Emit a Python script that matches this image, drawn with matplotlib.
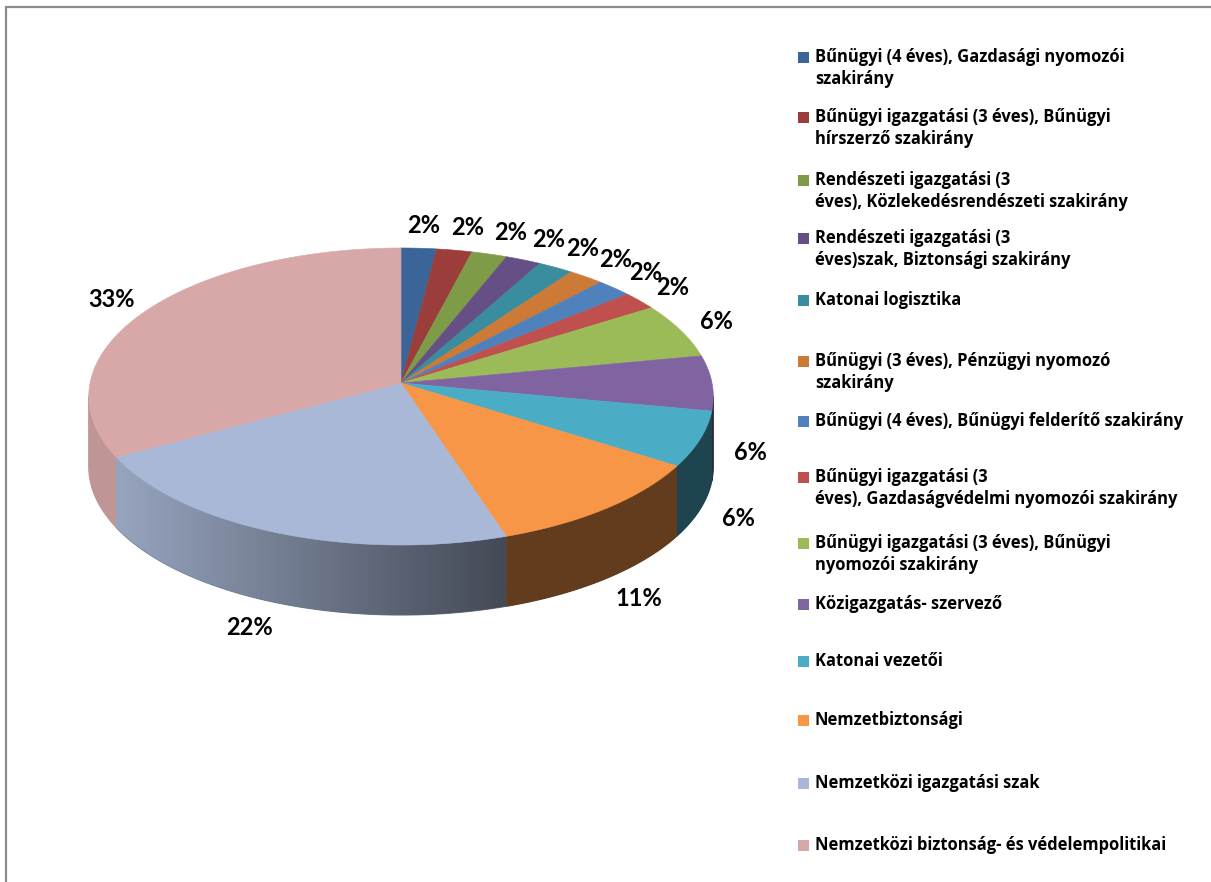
import matplotlib.pyplot as plt
from matplotlib.patches import Polygon, Rectangle
from matplotlib.colors import to_rgb
import numpy as np

# data
labels = [
    'Bűnügyi (4 éves), Gazdasági nyomozói\nszakirány',
    'Bűnügyi igazgatási (3 éves), Bűnügyi\nhírszerző szakirány',
    'Rendészeti igazgatási (3\néves), Közlekedésrendészeti szakirány',
    'Rendészeti igazgatási (3\néves)szak, Biztonsági szakirány',
    'Katonai logisztika',
    'Bűnügyi (3 éves), Pénzügyi nyomozó\nszakirány',
    'Bűnügyi (4 éves), Bűnügyi felderítő szakirány',
    'Bűnügyi igazgatási (3\néves), Gazdaságvédelmi nyomozói szakirány',
    'Bűnügyi igazgatási (3 éves), Bűnügyi\nnyomozói szakirány',
    'Közigazgatás- szervező',
    'Katonai vezetői',
    'Nemzetbiztonsági',
    'Nemzetközi igazgatási szak',
    'Nemzetközi biztonság- és védelempolitikai',
]
values = [2, 2, 2, 2, 2, 2, 2, 2, 6, 6, 6, 11, 22, 33]
colors = ['#3b6598', '#9b3d3b', '#7e9b48', '#664f84', '#3a8c9f', '#cc7a36',
          '#4f81bd', '#c0504d', '#9bbb59', '#8064a2', '#4bacc6', '#f79646',
          '#a9b8d6', '#d8a8a8']

# layout (pixels)
CX, CY = 401, 383
RX, RY = 311, 147.3
K = 0.0909
H = 70
legend_y = [57, 117, 180, 238, 300, 361, 421, 477, 543, 604, 661, 720, 783, 845]

LABEL_FONT = ['Lato', 'DejaVu Sans']
LEGEND_FONT = ['Open Sans', 'DejaVu Sans']


def proj(theta, r=1.0, z=0.0):
    t = np.radians(theta)
    x = r * np.sin(t)
    d = -r * np.cos(t)
    w = 1 - K * d
    return CX + RX * x / w, CY + RY * d / w + z


def shade(sx):
    return np.clip(0.89 - (sx - 118) / 387 * 0.49, 0.40, 0.89)


fig = plt.figure(figsize=(12.11, 8.82), dpi=100)
ax = fig.add_axes([0, 0, 1, 1])
ax.axis('off')

total = sum(values)
bounds = np.concatenate([[0], np.cumsum(values) / total * 360])

# side walls (only the front part is visible)
vis0, vis1 = 95.2, 264.8
for i, c in enumerate(colors):
    a0, a1 = max(bounds[i], vis0), min(bounds[i + 1], vis1)
    if a1 <= a0:
        continue
    base = np.array(to_rgb(c))
    th = np.linspace(a0, a1, 80)
    xs, ys = proj(th)
    pts = list(zip(xs, ys)) + list(zip(xs[::-1], ys[::-1] + H))
    x_mid = (xs.min() + xs.max()) / 2
    wall = Polygon(pts, closed=True, facecolor=base * shade(x_mid),
                   edgecolor=base * shade(x_mid), lw=0.8, zorder=1)
    ax.add_patch(wall)
    gx = np.linspace(xs.min(), xs.max(), 200)
    grad = base[None, None, :] * shade(gx)[None, :, None]
    img = ax.imshow(grad, extent=(xs.min(), xs.max(), ys.max() + H, ys.min()),
                    aspect='auto', interpolation='bilinear', zorder=1.1)
    img.set_clip_path(wall)

# top faces
for i, c in enumerate(colors):
    th = np.linspace(bounds[i], bounds[i + 1], 60)
    xs, ys = proj(th)
    pts = [(CX, CY)] + list(zip(xs, ys))
    ax.add_patch(Polygon(pts, closed=True, facecolor=c, edgecolor=c, lw=0.4, zorder=2))

# data labels
for i, v in enumerate(values):
    mid = (bounds[i] + bounds[i + 1]) / 2
    t = np.radians(mid)
    z = H if -np.cos(t) >= -0.05 else 0
    lx, ly = proj(mid, 1.07, z)
    lx += 17 * np.clip(3 * np.sin(t), -1, 1)
    ly -= 14 * np.cos(t)
    ax.text(lx, ly, f'{v}%', ha='center', va='center', fontsize=17,
            family=LABEL_FONT, fontweight='bold', color='black', zorder=3)

ax.set_xlim(0, 1211)
ax.set_ylim(882, 0)

# legend: size the font so the text spans like the original
renderer = fig.canvas.get_renderer()
probe = ax.text(0, 0, labels[0].split('\n')[0], fontsize=12, family=LEGEND_FONT,
                fontweight='bold')
legend_fs = 12 * 310 / probe.get_window_extent(renderer).width
probe.remove()

for i, (lab, c) in enumerate(zip(labels, colors)):
    y = legend_y[i]
    ax.add_patch(Rectangle((798, y - 5.5), 11, 11, facecolor=c, edgecolor='none'))
    ax.text(815, y - 9, lab, ha='left', va='top', fontsize=legend_fs,
            family=LEGEND_FONT, fontweight='bold', linespacing=1.3, color='black')

# chart border
ax.plot([6, 6, 1211], [882, 7, 7], color='#8c8c8c', lw=1.6, solid_joinstyle='miter')

fig.savefig('out.png', dpi=100)
